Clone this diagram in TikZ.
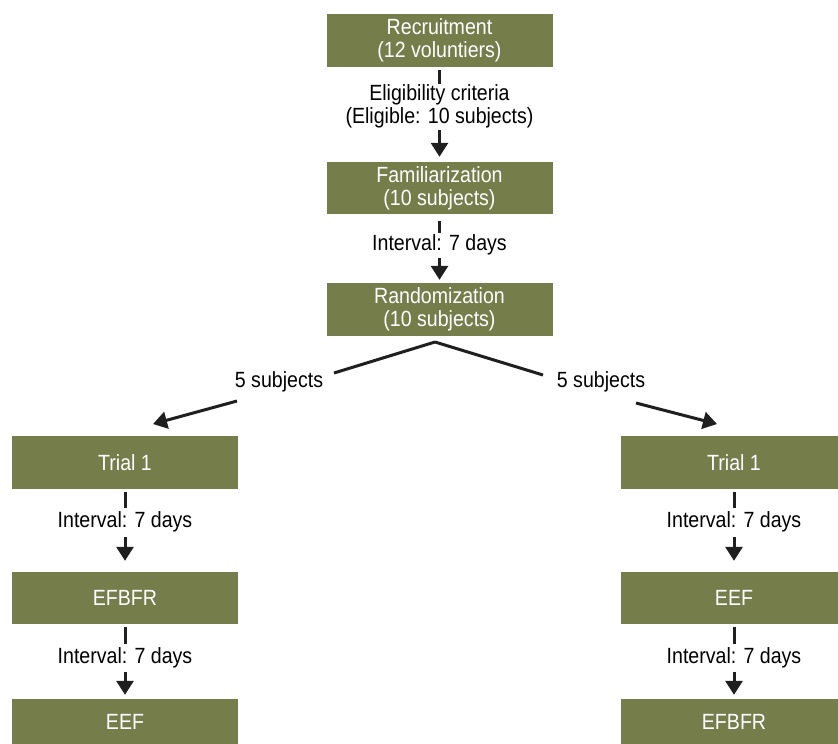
\documentclass[tikz,border=0pt]{standalone}
\usepackage{fontspec}
\setmainfont{Liberation Sans}[FakeStretch=0.89]
\usetikzlibrary{arrows.meta}
\definecolor{boxgreen}{RGB}{117,125,75}
\newcommand{\fsz}{\fontsize{22bp}{23bp}\selectfont}
\begin{document}
\begin{tikzpicture}[x=1bp,y=-1bp,
  box/.style={fill=boxgreen, text=white, minimum width=226bp, inner sep=0pt, align=center, font=\fsz},
  lbl/.style={inner sep=0pt, align=center, font=\fsz, text=black},
  conn/.style={line width=3bp, draw=black!88},
  arr/.style={conn, -{Triangle[width=17bp,length=14bp]}}]
\clip (0,0) rectangle (838,744);
% boxes
\node[box, minimum height=53bp] (rec)  at (439.5,40.5) {Recruitment\\(12 voluntiers)};
\node[box, minimum height=52bp] (fam)  at (439.5,188)  {Familiarization\\(10 subjects)};
\node[box, minimum height=53bp] (rand) at (439.5,309.5) {Randomization\\(10 subjects)};
\node[box, minimum height=53bp] (t1L)  at (125,462.5) {Trial 1};
\node[box, minimum height=52bp] (efL)  at (125,598)   {EFBFR};
\node[box, minimum height=45bp] (eeL)  at (125,721.5) {EEF};
\node[box, minimum height=53bp] (t1R)  at (734,462.5) {Trial 1};
\node[box, minimum height=52bp] (efR)  at (734,598)   {EEF};
\node[box, minimum height=45bp] (eeR)  at (734,721.5) {EFBFR};
% labels
\node[lbl] (elig) at (439.5,106.5) {Eligibility criteria\\(Eligible: 10 subjects)};
\node[lbl] (int0) at (439.5,245) {Interval: 7 days};
\node[lbl] (sL) at (279,382) {5 subjects};
\node[lbl] (sR) at (601,382) {5 subjects};
\node[lbl] (iL1) at (125,522) {Interval: 7 days};
\node[lbl] (iL2) at (125,658) {Interval: 7 days};
\node[lbl] (iR1) at (734,522) {Interval: 7 days};
\node[lbl] (iR2) at (734,658) {Interval: 7 days};
% coordinates for split connectors
\coordinate (a1) at (439.5,84);
\coordinate (a2) at (439.5,130);
\coordinate (b1) at (439.5,233);
\coordinate (b2) at (439.5,258);
\coordinate (apex) at (435,342);
\coordinate (dl1) at (334,373);
\coordinate (dl2) at (237,401);
\coordinate (dl3) at (153,424);
\coordinate (dr1) at (543,375);
\coordinate (dr2) at (636,403);
\coordinate (dr3) at (717,424);
\coordinate (l1) at (125,508);
\coordinate (l2) at (125,537);
\coordinate (l3) at (125,644);
\coordinate (l4) at (125,672);
\coordinate (r1) at (734,508);
\coordinate (r2) at (734,537);
\coordinate (r3) at (734,644);
\coordinate (r4) at (734,672);
% connectors
\draw[conn, shorten <=3bp] (rec.south) -- (a1);
\draw[arr, shorten >=5bp] (a2) -- (fam.north);
\draw[conn, shorten <=7bp] (fam.south) -- (b1);
\draw[arr, shorten >=3bp] (b2) -- (rand.north);
\draw[conn] (apex) -- (dl1);
\draw[arr] (dl2) -- (dl3);
\draw[conn] (apex) -- (dr1);
\draw[arr] (dr2) -- (dr3);
\draw[conn, shorten <=3bp] (t1L.south) -- (l1);
\draw[arr, shorten >=11bp] (l2) -- (efL.north);
\draw[conn, shorten <=3bp] (efL.south) -- (l3);
\draw[arr, shorten >=4bp] (l4) -- (eeL.north);
\draw[conn, shorten <=3bp] (t1R.south) -- (r1);
\draw[arr, shorten >=11bp] (r2) -- (efR.north);
\draw[conn, shorten <=3bp] (efR.south) -- (r3);
\draw[arr, shorten >=4bp] (r4) -- (eeR.north);
\end{tikzpicture}
\end{document}
